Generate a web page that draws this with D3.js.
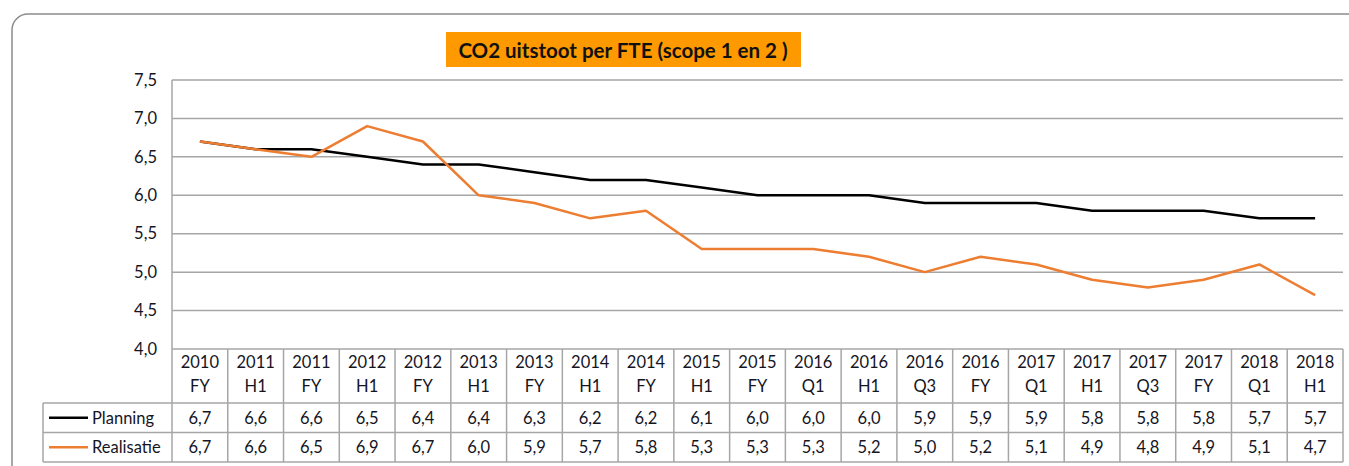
<!DOCTYPE html>
<html>
<head>
<meta charset="utf-8">
<script src="https://cdn.jsdelivr.net/npm/d3@7"></script>
<style>
  body { margin: 0; background: #fff; }
  svg { display: block; font-family: Lato, "Open Sans", sans-serif; }
</style>
</head>
<body>
<svg width="1349" height="466"></svg>
<script>
const years    = ["2010","2011","2011","2012","2012","2013","2013","2014","2014","2015","2015","2016","2016","2016","2016","2017","2017","2017","2017","2018","2018"];
const periods  = ["FY","H1","FY","H1","FY","H1","FY","H1","FY","H1","FY","Q1","H1","Q3","FY","Q1","H1","Q3","FY","Q1","H1"];
const planning   = [6.7,6.6,6.6,6.5,6.4,6.4,6.3,6.2,6.2,6.1,6.0,6.0,6.0,5.9,5.9,5.9,5.8,5.8,5.8,5.7,5.7];
const realisatie = [6.7,6.6,6.5,6.9,6.7,6.0,5.9,5.7,5.8,5.3,5.3,5.3,5.2,5.0,5.2,5.1,4.9,4.8,4.9,5.1,4.7];
const yTicks = [4.0,4.5,5.0,5.5,6.0,6.5,7.0,7.5];

const series = [
  { name: "Planning", values: planning, color: "#000000" },
  { name: "Realisatie", values: realisatie, color: "#ED7D31" }
];

const svg = d3.select("svg");
const gridColor = "#a6a6a6";
const textColor = "#15151f";
const fontSize = 16.5;
const fmt = d => d3.format(".1f")(d).replace(".", ",");

// plot area
const plotLeft = 172, plotRight = 1343, plotTop = 80, plotBottom = 349;
const headerBottom = 403, rowH = 29.5;
const legendLeft = 43;
const tableBottom = headerBottom + 2 * rowH;

// outer frame
svg.append("rect")
  .attr("x", 12).attr("y", 14)
  .attr("width", 1360).attr("height", 470)
  .attr("rx", 16)
  .attr("fill", "none")
  .attr("stroke", "#8c8c8c")
  .attr("stroke-width", 1.5);

const x = d3.scaleBand().domain(d3.range(years.length)).range([plotLeft, plotRight]);
const y = d3.scaleLinear().domain([4, 7.5]).range([plotBottom, plotTop]);

// title
const titleG = svg.append("g");
titleG.append("rect")
  .attr("x", 446).attr("y", 32).attr("width", 355).attr("height", 35)
  .attr("fill", "#FF9900");
titleG.append("text")
  .attr("x", 623).attr("y", 50)
  .attr("text-anchor", "middle").attr("dominant-baseline", "central")
  .attr("font-size", 20.5).attr("font-weight", "bold").attr("fill", "#111")
  .text("CO2 uitstoot per FTE (scope 1 en 2 )");

// gridlines
svg.append("g").selectAll("line")
  .data(yTicks)
  .join("line")
  .attr("x1", plotLeft).attr("x2", plotRight)
  .attr("y1", d => y(d)).attr("y2", d => y(d))
  .attr("stroke", gridColor).attr("stroke-width", 1.5);

// y axis
const yAxis = svg.append("g")
  .attr("transform", `translate(${plotLeft},0)`)
  .call(d3.axisLeft(y).tickValues(yTicks).tickFormat(fmt).tickSize(0).tickPadding(15));
yAxis.select(".domain").remove();
yAxis.selectAll("text")
  .attr("font-size", fontSize).attr("fill", textColor)
  .attr("font-family", "Lato, 'Open Sans', sans-serif");

// table lines
const tbl = svg.append("g").attr("stroke", gridColor).attr("stroke-width", 1.5);
tbl.append("line").attr("x1", plotLeft).attr("x2", plotLeft).attr("y1", plotTop).attr("y2", tableBottom);
tbl.selectAll("line.col")
  .data(d3.range(years.length))
  .join("line").attr("class", "col")
  .attr("x1", d => x(d) + x.bandwidth()).attr("x2", d => x(d) + x.bandwidth())
  .attr("y1", plotBottom).attr("y2", tableBottom);
tbl.append("line").attr("x1", legendLeft).attr("x2", legendLeft)
  .attr("y1", headerBottom).attr("y2", tableBottom);
[0, 1, 2].forEach(i => {
  tbl.append("line")
    .attr("x1", legendLeft).attr("x2", plotRight)
    .attr("y1", headerBottom + i * rowH).attr("y2", headerBottom + i * rowH);
});

// category header labels
const cats = svg.append("g").attr("font-size", fontSize).attr("fill", textColor).attr("text-anchor", "middle");
cats.selectAll("text.yr")
  .data(years)
  .join("text").attr("class", "yr")
  .attr("x", (d, i) => x(i) + x.bandwidth() / 2)
  .attr("y", 368)
  .text(d => d);
cats.selectAll("text.pr")
  .data(periods)
  .join("text").attr("class", "pr")
  .attr("x", (d, i) => x(i) + x.bandwidth() / 2)
  .attr("y", 392)
  .text(d => d);

// data rows + legend keys
series.forEach((s, r) => {
  const cy = headerBottom + r * rowH + rowH / 2;
  const row = svg.append("g").attr("font-size", fontSize).attr("fill", textColor);
  row.selectAll("text.val")
    .data(s.values)
    .join("text").attr("class", "val")
    .attr("x", (d, i) => x(i) + x.bandwidth() / 2)
    .attr("y", cy)
    .attr("text-anchor", "middle").attr("dominant-baseline", "central")
    .text(fmt);
  row.append("line")
    .attr("x1", 49).attr("x2", 88).attr("y1", cy).attr("y2", cy)
    .attr("stroke", s.color).attr("stroke-width", 2.5);
  row.append("text")
    .attr("x", 92).attr("y", cy)
    .attr("dominant-baseline", "central")
    .text(s.name);
});

// lines
const line = d3.line()
  .x((d, i) => x(i) + x.bandwidth() / 2)
  .y(d => y(d));
svg.append("g").selectAll("path")
  .data(series)
  .join("path")
  .attr("d", d => line(d.values))
  .attr("fill", "none")
  .attr("stroke", d => d.color)
  .attr("stroke-width", 2.5)
  .attr("stroke-linejoin", "round");
</script>
</body>
</html>
